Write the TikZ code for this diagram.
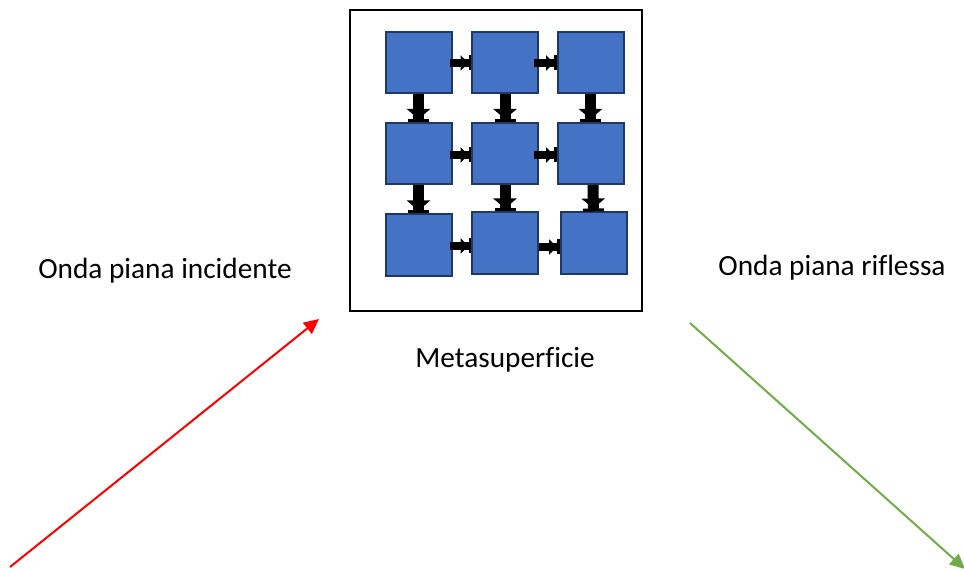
\documentclass[tikz,border=0pt]{standalone}
\usepackage{fontspec}
\setmainfont{Carlito}[Ligatures=NoCommon]
\usetikzlibrary{arrows.meta}
\definecolor{cellfill}{HTML}{4472C4}
\definecolor{celledge}{HTML}{1F3864}
\definecolor{wavegreen}{HTML}{70AD47}
\tikzset{
  cell/.style={draw=celledge, fill=cellfill, line width=2pt, inner sep=0pt, minimum width=66pt, minimum height=61pt},
  harrow/.style={line width=8pt, -{Triangle[width=15pt,length=8pt]Bar[width=15pt,line width=2.5pt]}},
  varrow/.style={line width=11pt, -{Triangle[width=23pt,length=10pt]Bar[width=21pt,line width=3pt]}},
  label/.style={font=\fontsize{29.3pt}{34pt}\selectfont, anchor=base, inner sep=0pt},
  wave/.style={line width=2pt, -{Triangle[width=14pt,length=15pt]}}
}
\begin{document}
\begin{tikzpicture}[x=1pt,y=-1pt]
\useasboundingbox (0,0) rectangle (964,572);
\node[draw, line width=2.5pt, minimum width=292pt, minimum height=301pt, inner sep=0pt] (frame) at (496,160.5) {};
\node[cell] (c11) at (418.5,63) {};
\node[cell] (c12) at (505,63) {};
\node[cell] (c13) at (590.5,63) {};
\node[cell] (c21) at (418.5,153.5) {};
\node[cell] (c22) at (505,153.5) {};
\node[cell] (c23) at (590.5,153.5) {};
\node[cell] (c31) at (418.5,245) {};
\node[cell] (c32) at (505,243) {};
\node[cell] (c33) at (593.5,243) {};
% horizontal arrows
\draw[harrow] ([xshift=-3pt]c11.east) -- (c12.west);
\draw[harrow] ([xshift=-5pt]c12.east) -- (c13.west);
\draw[harrow] ([xshift=-3pt,yshift=-1.5pt]c21.east) -- ([yshift=-1.5pt]c22.west);
\draw[harrow] ([xshift=-5pt,yshift=-1.5pt]c22.east) -- ([yshift=-1.5pt]c23.west);
\draw[harrow] ([xshift=-3pt,yshift=-1pt]c31.east) -- ([yshift=-3pt]c32.west);
\draw[harrow] ([yshift=-4pt]c32.east) -- ([yshift=-4pt]c33.west);
% vertical arrows
\draw[varrow] (c11.south) -- (c21.north);
\draw[varrow] (c12.south) -- (c22.north);
\draw[varrow] (c13.south) -- (c23.north);
\draw[varrow] (c21.south) -- (c31.north);
\draw[varrow] (c22.south) -- (c32.north);
\draw[varrow] ([xshift=2.5pt]c23.south) -- (c33.north);
% labels
\node[label] (inc) at (165,279) {Onda piana incidente};
\node[label] (rif) at (832,276) {Onda piana riflessa};
\node[label] (meta) at (505,367) {Metasuperficie};
% waves
\coordinate (redstart) at (10,567);
\coordinate (redend) at (319,319);
\coordinate (greenstart) at (690,323);
\coordinate (greenend) at (965,569);
\draw[wave, red] (redstart) -- (redend);
\draw[wave, wavegreen] (greenstart) -- (greenend);
\end{tikzpicture}
\end{document}
